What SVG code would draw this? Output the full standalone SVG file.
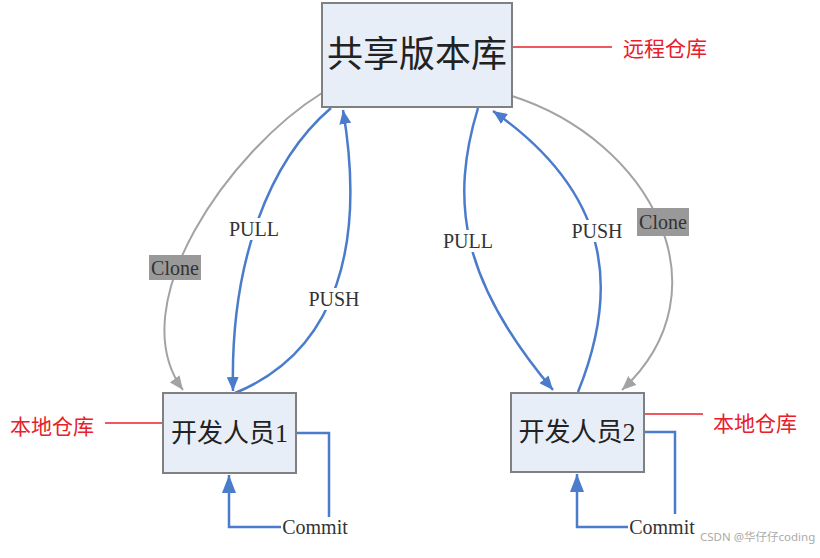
<svg xmlns="http://www.w3.org/2000/svg" width="820" height="558" viewBox="0 0 820 558">
<defs>
<style>
.box{fill:#e8eef8;stroke:#808080;stroke-width:2}
.node{font-family:"Liberation Serif","Noto Sans CJK SC",serif;fill:#222}
.blue{fill:none;stroke:#4a7ccb;stroke-width:2.5}
.gray{fill:none;stroke:#a3a3a3;stroke-width:2}
.red{stroke:#e8202a;stroke-width:1.5}
.rtxt{font-family:"Noto Sans CJK SC","Noto Sans",sans-serif;font-size:21px;fill:#e8202a}
.lbl{font-family:"Liberation Serif",serif;font-size:20px;fill:#333}
</style>
<marker id="ab" markerUnits="userSpaceOnUse" markerWidth="14" markerHeight="12" refX="14" refY="6" orient="auto"><path d="M0,0 L14,6 L0,12 z" fill="#4a7ccb"/></marker>
<marker id="ag" markerUnits="userSpaceOnUse" markerWidth="14" markerHeight="12" refX="14" refY="6" orient="auto"><path d="M0,0 L14,6 L0,12 z" fill="#a3a3a3"/></marker>
<marker id="abig" markerUnits="userSpaceOnUse" markerWidth="18" markerHeight="14" refX="18" refY="7" orient="auto"><path d="M0,0 L18,7 L0,14 z" fill="#4a7ccb"/></marker>
</defs>
<rect width="820" height="558" fill="#fff"/>
<g id="connectors">
<path class="gray" d="M322,93 C230,150 120,305 183,390" marker-end="url(#ag)"/>
<path class="gray" d="M512,96 C650,140 730,290 622,390" marker-end="url(#ag)"/>
<path class="blue" d="M331,108 C270,160 230,260 233,391" marker-end="url(#ab)"/>
<path class="blue" d="M235,393 C340,350 365,240 343,110" marker-end="url(#ab)"/>
<path class="blue" d="M478,108 C450,200 460,280 553,390" marker-end="url(#ab)"/>
<path class="blue" d="M578,392 C615,300 620,200 493,111" marker-end="url(#ab)"/>
<polyline class="blue" points="296,433 329,433 329,517"/>
<polyline class="blue" points="281,527 229,527 229,475" marker-end="url(#abig)"/>
<polyline class="blue" points="644,432 675,432 675,514"/>
<polyline class="blue" points="628,527 577,527 577,474" marker-end="url(#abig)"/>
<line class="red" x1="512" y1="47" x2="612" y2="47"/>
<line class="red" x1="105" y1="423" x2="168" y2="423"/>
<line class="red" x1="644" y1="414" x2="703" y2="414"/>
<rect x="227" y="218" width="55" height="22" fill="#fff"/>
<text class="lbl" x="254" y="229" text-anchor="middle" dominant-baseline="central">PULL</text>
<rect x="306" y="288" width="56" height="22" fill="#fff"/>
<text class="lbl" x="334" y="299" text-anchor="middle" dominant-baseline="central">PUSH</text>
<rect x="441" y="230" width="55" height="22" fill="#fff"/>
<text class="lbl" x="468" y="241" text-anchor="middle" dominant-baseline="central">PULL</text>
<rect x="568" y="220" width="58" height="22" fill="#fff"/>
<text class="lbl" x="597" y="231" text-anchor="middle" dominant-baseline="central">PUSH</text>
<rect x="149" y="255" width="52" height="25" fill="#999"/>
<text class="lbl" x="175" y="267.5" text-anchor="middle" dominant-baseline="central" fill="#222">Clone</text>
<rect x="637" y="208" width="52" height="28" fill="#999"/>
<text class="lbl" x="663" y="222" text-anchor="middle" dominant-baseline="central" fill="#222">Clone</text>
<text class="lbl" x="315" y="527" text-anchor="middle" dominant-baseline="central" style="font-size:20px">Commit</text>
<text class="lbl" x="662" y="527" text-anchor="middle" dominant-baseline="central" style="font-size:20px">Commit</text>
</g>
<g id="repo">
<rect class="box" x="322" y="3" width="190" height="104"/>
<text class="node" x="417" y="55" text-anchor="middle" dominant-baseline="central" font-size="36">共享版本库</text>
</g>
<g id="dev1">
<rect class="box" x="163" y="393" width="133" height="80"/>
<text class="node" x="229.5" y="433" text-anchor="middle" dominant-baseline="central" font-size="26">开发人员1</text>
</g>
<g id="dev2">
<rect class="box" x="511" y="393" width="133" height="79"/>
<text class="node" x="577" y="432" text-anchor="middle" dominant-baseline="central" font-size="26">开发人员2</text>
</g>
<g id="notes">
<text class="rtxt" x="623" y="47" dominant-baseline="central">远程仓库</text>
<text class="rtxt" x="10" y="425" dominant-baseline="central">本地仓库</text>
<text class="rtxt" x="713" y="422" dominant-baseline="central">本地仓库</text>
<text x="700" y="536" dominant-baseline="central" font-family="'Noto Sans','Noto Sans CJK SC',sans-serif" font-size="11.5" fill="#aaa">CSDN @华仔仔coding</text>
</g>
</svg>
